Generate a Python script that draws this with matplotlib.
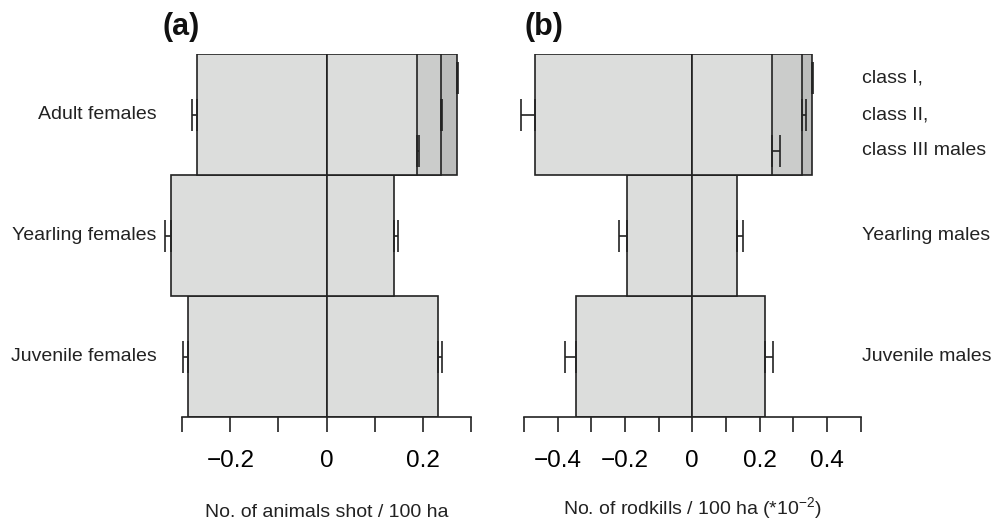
import matplotlib
matplotlib.use("Agg")
import matplotlib.pyplot as plt
import matplotlib.transforms as mtrans

plt.rcParams['font.family'] = ['Liberation Sans', 'DejaVu Sans']

# ---------------- data ----------------
categories_f = ["Juvenile females", "Yearling females", "Adult females"]
categories_m = ["Juvenile males", "Yearling males"]
adult_classes = ["class I,", "class II,", "class III males"]

# panel (a): animals shot / 100 ha
a_female = [0.287, 0.323, 0.270]          # juvenile, yearling, adult
a_female_err = [0.0105, 0.013, 0.009]
a_male = [0.230, 0.140]                   # juvenile, yearling
a_male_err = [0.009, 0.007]
a_adult_m = [0.271, 0.2365, 0.1867]       # class I, II, III
a_adult_m_err = [0.002, 0.002, 0.0054]

# panel (b): roadkills / 100 ha (*10^-2)
b_female = [0.346, 0.193, 0.467]
b_female_err = [0.032, 0.025, 0.043]
b_male = [0.217, 0.134]
b_male_err = [0.023, 0.018]
b_adult_m = [0.355, 0.325, 0.236]
b_adult_m_err = [0.005, 0.012, 0.025]

a_ticks = [-0.3, -0.2, -0.1, 0.0, 0.1, 0.2, 0.3]
a_ticklabels = ["", "\u22120.2", "", "0", "", "0.2", ""]
b_ticks = [-0.5, -0.4, -0.3, -0.2, -0.1, 0.0, 0.1, 0.2, 0.3, 0.4, 0.5]
b_ticklabels = ["", "\u22120.4", "", "\u22120.2", "", "0", "", "0.2", "", "0.4", ""]

a_xlabel = "No. of animals shot / 100 ha"
b_xlabel = "No. of rodkills / 100 ha (*10$^{\\mathregular{\u22122}}$)"

# ---------------- style ----------------
LIGHT = "#dcdddc"
MID = "#cbcccb"
DARK = "#bcbdbc"
EDGE = "#222222"
class_colors = [DARK, MID, LIGHT]
class_offsets = [0.3, 0.0, -0.3]
LW = 1.2

fig = plt.figure(figsize=(10.03, 5.23), dpi=100)
W, H = 1003, 523
ybot = 1 - 417 / H
ytop = 1 - 54 / H

def make_axes(x0_px, x1_px, xlim):
    ax = fig.add_axes([x0_px / W, ybot, (x1_px - x0_px) / W, ytop - ybot])
    ax.set_xlim(*xlim)
    ax.set_ylim(-0.5, 2.5)
    for s in ["left", "top", "right"]:
        ax.spines[s].set_visible(False)
    ax.spines["bottom"].set_linewidth(LW)
    ax.spines["bottom"].set_color(EDGE)
    ax.set_yticks([])
    ax.tick_params(axis="x", length=10.8, width=LW, color=EDGE, pad=13,
                   labelsize=17.5, direction="out")
    return ax

def draw_panel(ax, fem, fem_err, mal, mal_err, adm, adm_err):
    ys = [0, 1, 2]
    # female (negative) side
    ax.barh(ys, [-v for v in fem], height=1.0, color=LIGHT, edgecolor=EDGE,
            linewidth=LW, zorder=2)
    for y, v, e in zip(ys, fem, fem_err):
        ax.errorbar(-v, y, xerr=[[e], [0]], fmt="none", ecolor=EDGE,
                    elinewidth=LW, capsize=11.5, capthick=LW, zorder=4,
                    clip_on=False)
    # male juvenile & yearling
    ax.barh(ys[:2], mal, height=1.0, color=LIGHT, edgecolor=EDGE,
            linewidth=LW, zorder=2)
    for y, v, e in zip(ys[:2], mal, mal_err):
        ax.errorbar(v, y, xerr=[[0], [e]], fmt="none", ecolor=EDGE,
                    elinewidth=LW, capsize=11.5, capthick=LW, zorder=4,
                    clip_on=False)
    # adult males, overlapping classes
    for i, (v, c) in enumerate(zip(adm, class_colors)):
        ax.barh(2, v, height=1.0, color=c, edgecolor=EDGE, linewidth=LW,
                zorder=2 + i * 0.1)
    for v, e, off in zip(adm, adm_err, class_offsets):
        ax.errorbar(v, 2 + off, xerr=[[0], [e]], fmt="none", ecolor=EDGE,
                    elinewidth=LW, capsize=11.5, capthick=LW, zorder=4,
                    clip_on=False)

# panel a
axa = make_axes(326.7 + 482 * -0.34, 326.7 + 482 * 0.30, (-0.34, 0.30))
draw_panel(axa, a_female, a_female_err, a_male, a_male_err, a_adult_m, a_adult_m_err)
axa.set_xticks(a_ticks)
axa.set_xticklabels(a_ticklabels)
axa.spines["bottom"].set_bounds(a_ticks[0], a_ticks[-1])

# panel b
axb = make_axes(692.3 + 336.5 * -0.52, 692.3 + 336.5 * 0.50, (-0.52, 0.50))
draw_panel(axb, b_female, b_female_err, b_male, b_male_err, b_adult_m, b_adult_m_err)
axb.set_xticks(b_ticks)
axb.set_xticklabels(b_ticklabels)
axb.spines["bottom"].set_bounds(b_ticks[0], b_ticks[-1])

# x labels centred on zero
for ax, lab, yf in [(axa, a_xlabel, -0.264), (axb, b_xlabel, -0.252)]:
    tr = mtrans.blended_transform_factory(ax.transData, ax.transAxes)
    ax.text(0, yf, lab, transform=tr, ha="center", va="center", fontsize=14,
            color="#222222", clip_on=False)

# left category labels (panel a)
for y, lab in zip([0, 1, 2], categories_f):
    axa.text(-0.353, y, lab, ha="right", va="center", fontsize=14,
             color="#222222", clip_on=False)

# right category labels (panel b)
for y, lab in zip([0, 1], categories_m):
    axb.text(0.505, y, lab, ha="left", va="center", fontsize=14,
             color="#222222", clip_on=False)
for off, lab in zip(class_offsets, adult_classes):
    axb.text(0.505, 2 + off, lab, ha="left", va="center", fontsize=14,
             color="#222222", clip_on=False)

fig.text(162 / W, 1 - 27 / H, "(a)", fontsize=22, fontweight="bold",
         ha="left", va="center", color="#111111")
fig.text(525 / W, 1 - 27 / H, "(b)", fontsize=22, fontweight="bold",
         ha="left", va="center", color="#111111")

fig.savefig("out.png", dpi=100)
